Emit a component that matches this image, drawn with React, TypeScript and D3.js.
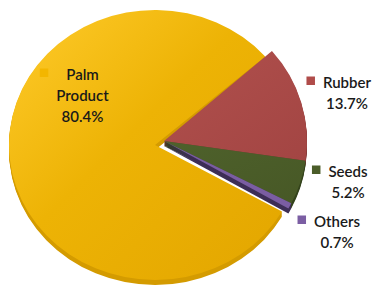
import React, { useEffect, useRef } from "react";
import * as d3 from "d3";

// ---- data ----
const categories = ["Palm Product", "Rubber", "Seeds", "Others"];
const values = [80.4, 13.7, 5.2, 0.7];
const percentLabels = ["80.4%", "13.7%", "5.2%", "0.7%"];

// ---- styles ----
const W = 372;
const H = 288;
const topFills = ["url(#palmGrad)", "url(#rubberGrad)", "url(#seedGrad)", "#7A5DA2"];
const sideFills = ["#D49B00", "#7E3432", "#33421B", "#3D2E56"];
const keyFills = ["#F3B600", "#B04C4A", "#4B5D29", "#7B5EA3"];
const sliceCenters: [number, number][] = [
  [155, 145],
  [164, 141],
  [164, 141],
  [164, 141],
];
const sliceRadii: [number, number][] = [
  [146, 135],
  [143, 137],
  [143, 137],
  [143, 137],
];
const DEPTH = 5;
const END_OF_FIRST_DEG = 49; // clockwise from 12 o'clock, where the first slice ends
const labelAnchors: [number, number][] = [
  [82.5, 80],
  [347, 88],
  [348, 177],
  [337, 227],
];
const LINE_H = 20.8;
const KEY = 8.5;
const KEY_GAP = 8;

export default function App() {
  const ref = useRef<SVGSVGElement | null>(null);

  useEffect(() => {
    const svg = d3.select(ref.current);
    svg.selectAll("*").remove();

    const defs = svg.append("defs");
    const grad = (id: string, stops: [number, string][]) => {
      const g = defs
        .append("linearGradient")
        .attr("id", id)
        .attr("x1", 0)
        .attr("y1", 0)
        .attr("x2", 1)
        .attr("y2", 1);
      stops.forEach(([o, c]) => g.append("stop").attr("offset", o).attr("stop-color", c));
    };
    grad("palmGrad", [
      [0, "#FFCB2C"],
      [0.45, "#EDB305"],
      [1, "#E3A600"],
    ]);
    grad("rubberGrad", [
      [0, "#B0504D"],
      [1, "#A34543"],
    ]);
    grad("seedGrad", [
      [0, "#4E612B"],
      [1, "#475826"],
    ]);

    const total = d3.sum(values);
    const start = (END_OF_FIRST_DEG * Math.PI) / 180 - (2 * Math.PI * values[0]) / total;
    const pie = d3
      .pie<number>()
      .sort(null)
      .startAngle(start)
      .endAngle(start + 2 * Math.PI);
    const arcs = pie(values);
    const R = 100;
    const arcGen = d3.arc<d3.PieArcDatum<number>>().innerRadius(0).outerRadius(R);

    const tf = (i: number, dy: number) =>
      `translate(${sliceCenters[i][0]},${sliceCenters[i][1] + dy}) scale(${sliceRadii[i][0] / R},${
        sliceRadii[i][1] / R
      })`;

    const gSide = svg.append("g");
    arcs.forEach((a, i) => {
      for (let d = 1; d <= DEPTH; d++) {
        gSide
          .append("path")
          .attr("d", arcGen(a) as string)
          .attr("transform", tf(i, d))
          .attr("fill", sideFills[i]);
      }
    });
    const gTop = svg.append("g");
    arcs.forEach((a, i) => {
      gTop
        .append("path")
        .attr("d", arcGen(a) as string)
        .attr("transform", tf(i, 0))
        .attr("fill", topFills[i]);
    });

    // labels
    const gLab = svg
      .append("g")
      .attr("font-family", "Lato, 'Open Sans', sans-serif")
      .attr("font-size", 15)
      .attr("font-weight", 600)
      .attr("fill", "#1A1A1A");
    categories.forEach((cat, i) => {
      const lines = [...cat.split(" "), percentLabels[i]];
      const [cx, by] = labelAnchors[i];
      let maxW = 0;
      lines.forEach((ln, j) => {
        const t = gLab
          .append("text")
          .attr("x", cx)
          .attr("y", by + j * LINE_H)
          .attr("text-anchor", "middle")
          .text(ln);
        const w = (t.node() as SVGTextElement).getComputedTextLength();
        if (w > maxW) maxW = w;
      });
      gLab
        .append("rect")
        .attr("x", cx - maxW / 2 - KEY_GAP - KEY)
        .attr("y", by - 11.5)
        .attr("width", KEY)
        .attr("height", KEY)
        .attr("fill", keyFills[i]);
    });
  }, []);

  return (
    <svg
      ref={ref}
      width={W}
      height={H}
      style={{ position: "fixed", left: 0, top: 0, background: "#fff" }}
    />
  );
}
